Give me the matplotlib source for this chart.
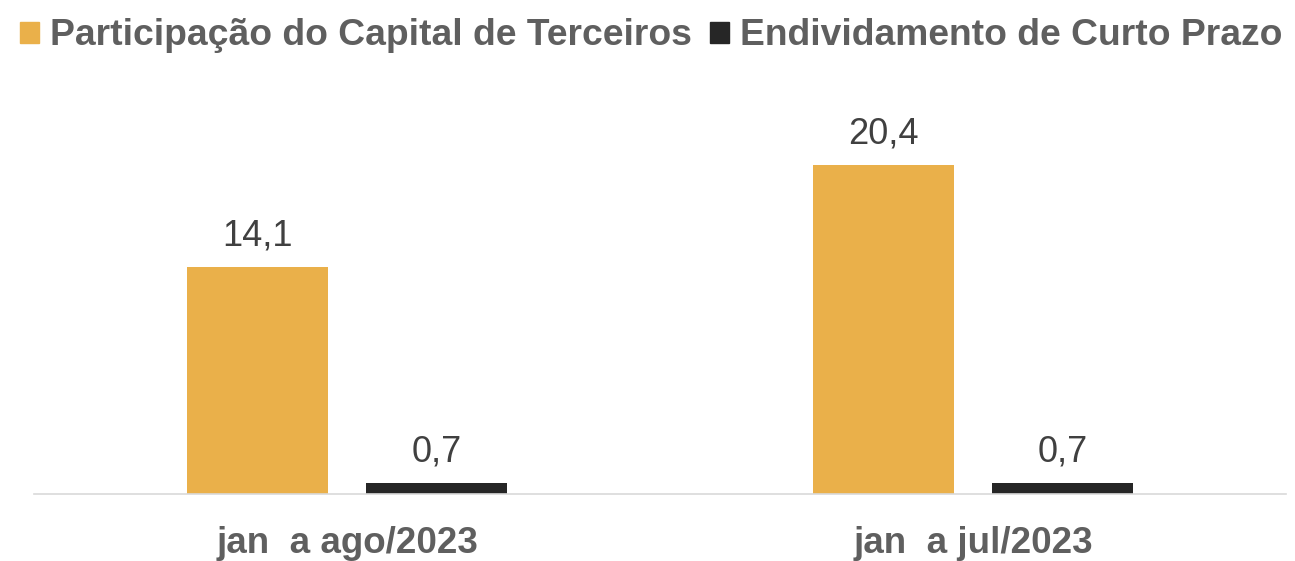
import numpy as np
import matplotlib.pyplot as plt
from matplotlib.patches import Patch

plt.rcParams['font.family'] = ['Liberation Sans', 'DejaVu Sans']

categories = ['jan  a ago/2023', 'jan  a jul/2023']
participacao = [14.1, 20.4]
endividamento = [0.7, 0.7]
series_names = ['Participação do Capital de Terceiros', 'Endividamento de Curto Prazo']

orange = '#EAB04A'
dark = '#262626'
gray = '#5F5F5F'

fig = plt.figure(figsize=(12.95, 5.61), dpi=100)
ax = fig.add_axes([34 / 1295, 67 / 561, 1252 / 1295, 403 / 561])

x = np.arange(len(categories))
w = 0.224
off = 0.143
b1 = ax.bar(x - off, participacao, w, color=orange)
b2 = ax.bar(x + off, endividamento, w, color=dark)

for bars, vals in [(b1, participacao), (b2, endividamento)]:
    for r, v in zip(bars, vals):
        ax.text(r.get_x() + r.get_width() / 2, v + 0.85, f'{v:.1f}'.replace('.', ','),
                ha='center', va='bottom', fontsize=26, color='#404040')

ax.set_xlim(-0.5, 1.5)
ax.set_ylim(0, 25)
ax.set_yticks([])
ax.set_xticks(x)
ax.set_xticklabels(categories, fontsize=26.5, fontweight='bold', color=gray)
ax.tick_params(axis='x', length=0, pad=23)
for s in ['top', 'right', 'left']:
    ax.spines[s].set_visible(False)
ax.spines['bottom'].set_color('#D9D9D9')
ax.spines['bottom'].set_linewidth(1.2)

handles = [Patch(color=orange), Patch(color=dark)]
fig.legend(handles, series_names, loc='upper center', bbox_to_anchor=(0.503, 1.027), ncol=2,
           frameon=False, prop={'size': 26.8, 'weight': 'bold'}, labelcolor=gray,
           handlelength=0.5, handleheight=0.5, handletextpad=0.3, columnspacing=0.5)

fig.savefig('out.png', dpi=100)
